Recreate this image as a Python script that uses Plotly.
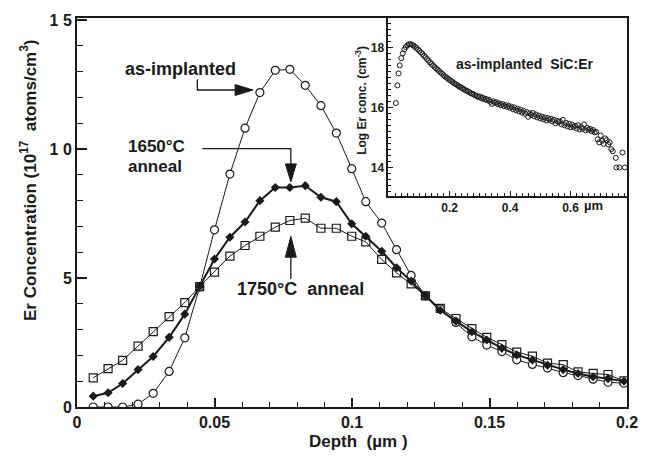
import plotly.graph_objects as go

# ---------------- main data ----------------
depth_um = [0.0059, 0.0113, 0.0166, 0.0222, 0.0277, 0.0335, 0.0392, 0.0446, 0.0500, 0.0556,
            0.0611, 0.0665, 0.0721, 0.0774, 0.0830, 0.0887, 0.0943, 0.0999, 0.1050, 0.1108,
            0.1162, 0.1215, 0.1267, 0.1321, 0.1378, 0.1436, 0.1490, 0.1545, 0.1599, 0.1656,
            0.1711, 0.1768, 0.1822, 0.1877, 0.1931, 0.1989]
as_implanted = [0, 0, 0, 0.11, 0.53, 1.38, 2.68, 4.65, 6.87, 9.03,
                10.81, 12.19, 13.05, 13.09, 12.47, 11.68, 10.62, 9.24, 7.96, 7.13,
                6.10, 5.10, 4.31, 3.80, 3.28, 2.72, 2.40, 2.15, 1.83, 1.65,
                1.51, 1.33, 1.22, 1.08, 0.96, 0.92]
anneal_1650 = [0.42, 0.55, 0.91, 1.45, 1.96, 2.70, 3.60, 4.67, 5.74, 6.58,
               7.17, 8.00, 8.51, 8.51, 8.58, 8.13, 7.96, 7.10, 6.62, 6.04,
               5.40, 4.88, 4.31, 3.75, 3.33, 2.92, 2.60, 2.28, 2.02, 1.82,
               1.62, 1.45, 1.30, 1.17, 1.10, 1.00]
anneal_1750 = [1.13, 1.49, 1.81, 2.36, 2.92, 3.50, 4.05, 4.67, 5.23, 5.85,
               6.26, 6.62, 6.97, 7.23, 7.32, 6.93, 6.93, 6.62, 6.40, 5.72,
               5.20, 4.77, 4.31, 3.82, 3.43, 3.04, 2.70, 2.42, 2.13, 1.97,
               1.70, 1.64, 1.36, 1.30, 1.26, 1.01]

# ---------------- inset data (log scale profile) ----------------
inset_depth = [0.022, 0.027, 0.031, 0.035, 0.040, 0.045, 0.050, 0.055, 0.060, 0.065,
               0.070, 0.075, 0.080, 0.085, 0.090, 0.095, 0.100, 0.105, 0.110, 0.115,
               0.120, 0.125, 0.130, 0.135, 0.140, 0.145, 0.150, 0.155, 0.160, 0.165,
               0.170, 0.175, 0.180, 0.185, 0.190, 0.195, 0.200, 0.205, 0.210, 0.215,
               0.220, 0.225, 0.230, 0.235, 0.240, 0.245, 0.250, 0.255, 0.260, 0.265,
               0.270, 0.275, 0.280, 0.285, 0.290, 0.295, 0.300, 0.305, 0.310, 0.315,
               0.320, 0.325, 0.330, 0.335, 0.340, 0.345, 0.350, 0.355, 0.360, 0.365,
               0.370, 0.375, 0.380, 0.385, 0.390, 0.395, 0.400, 0.405, 0.410, 0.415,
               0.420, 0.425, 0.430, 0.435, 0.440, 0.445, 0.450, 0.455, 0.460, 0.465,
               0.470, 0.475, 0.480, 0.485, 0.490, 0.495, 0.500, 0.505, 0.510, 0.515,
               0.520, 0.525, 0.530, 0.535, 0.540, 0.545, 0.550, 0.555, 0.560, 0.565,
               0.570, 0.575, 0.580, 0.585, 0.590, 0.595, 0.600, 0.605, 0.610, 0.615,
               0.620, 0.625, 0.630, 0.635, 0.640, 0.645, 0.650, 0.655, 0.660, 0.665,
               0.670, 0.675, 0.680, 0.685, 0.690, 0.695, 0.700, 0.705, 0.710, 0.715,
               0.720, 0.725, 0.730, 0.735, 0.740, 0.750, 0.752, 0.762, 0.772, 0.780]
inset_log = [16.16, 16.75, 17.15, 17.42, 17.66, 17.82, 17.95, 18.03, 18.09, 18.12,
             18.13, 18.11, 18.08, 18.04, 18.00, 17.95, 17.90, 17.85, 17.80, 17.74,
             17.69, 17.63, 17.58, 17.52, 17.47, 17.42, 17.37, 17.32, 17.28, 17.23,
             17.18, 17.14, 17.09, 17.05, 17.01, 16.97, 16.93, 16.90, 16.86, 16.82,
             16.79, 16.76, 16.72, 16.70, 16.66, 16.64, 16.60, 16.58, 16.55, 16.53,
             16.49, 16.47, 16.45, 16.41, 16.40, 16.36, 16.38, 16.32, 16.34, 16.28,
             16.30, 16.25, 16.27, 16.20, 16.13, 16.22, 16.17, 16.19, 16.12, 16.15,
             16.09, 16.13, 16.06, 16.10, 16.03, 16.07, 16.00, 16.04, 15.95, 16.01,
             15.92, 15.97, 15.88, 15.94, 15.84, 15.90, 15.80, 15.86, 15.70, 15.82,
             15.76, 15.83, 15.72, 15.78, 15.68, 15.74, 15.65, 15.71, 15.62, 15.68,
             15.58, 15.66, 15.60, 15.64, 15.55, 15.60, 15.48, 15.57, 15.52, 15.55,
             15.45, 15.60, 15.42, 15.50, 15.38, 15.47, 15.35, 15.44, 15.36, 15.40,
             15.31, 15.42, 15.28, 15.36, 15.30, 15.45, 15.25, 15.33, 15.27, 15.30,
             15.22, 15.26, 15.18, 15.20, 14.95, 14.85, 15.08, 14.90, 14.80, 14.98,
             14.92, 14.78, 14.85, 14.62, 14.55, 14.33, 14.01, 14.01, 14.51, 14.01]

INK = "#1a1a1a"
FONT = "Liberation Sans"

fig = go.Figure()

fig.add_trace(go.Scatter(x=depth_um, y=anneal_1750, mode="lines+markers",
                         line=dict(color=INK, width=1),
                         marker=dict(symbol="square-open", size=8, color=INK, line=dict(width=1.2)),
                         showlegend=False))
fig.add_trace(go.Scatter(x=depth_um, y=as_implanted, mode="lines+markers",
                         line=dict(color=INK, width=1),
                         marker=dict(symbol="circle", size=8, color="white", line=dict(width=1.2, color=INK)),
                         showlegend=False))
fig.add_trace(go.Scatter(x=depth_um, y=anneal_1650, mode="lines+markers",
                         line=dict(color=INK, width=2),
                         marker=dict(symbol="diamond", size=7, color=INK),
                         showlegend=False))

fig.add_trace(go.Scatter(x=inset_depth, y=inset_log, mode="markers", xaxis="x2", yaxis="y2",
                         marker=dict(symbol="circle-open", size=5, color=INK, line=dict(width=1)),
                         showlegend=False))

# pixel -> data helpers for annotation geometry (main axes: x 77..630 px, y 15..407 px)
def dx(px):
    return (px - 77) / 2765.0

def dy(py):
    return (407 - py) / 26.0

shapes = []
# as-implanted bent arrow
shapes.append(dict(type="path", xref="x", yref="y",
                   path=f"M {dx(198)},{dy(77)} L {dx(198)},{dy(87.5)} L {dx(238)},{dy(87.5)}",
                   line=dict(color=INK, width=1.3)))
shapes.append(dict(type="path", xref="x", yref="y",
                   path=f"M {dx(236)},{dy(82)} L {dx(254)},{dy(87.5)} L {dx(236)},{dy(93)} Z",
                   fillcolor=INK, line=dict(color=INK, width=1)))
# 1650 arrow
shapes.append(dict(type="path", xref="x", yref="y",
                   path=f"M {dx(203)},{dy(146.5)} L {dx(292)},{dy(146.5)} L {dx(292)},{dy(165)}",
                   line=dict(color=INK, width=1.3)))
shapes.append(dict(type="path", xref="x", yref="y",
                   path=f"M {dx(286.5)},{dy(162)} L {dx(292)},{dy(180)} L {dx(297.5)},{dy(162)} Z",
                   fillcolor=INK, line=dict(color=INK, width=1)))
# 1750 arrow
shapes.append(dict(type="path", xref="x", yref="y",
                   path=f"M {dx(292)},{dy(278)} L {dx(292)},{dy(253)}",
                   line=dict(color=INK, width=1.3)))
shapes.append(dict(type="path", xref="x", yref="y",
                   path=f"M {dx(286.5)},{dy(256)} L {dx(292)},{dy(235)} L {dx(297.5)},{dy(256)} Z",
                   fillcolor=INK, line=dict(color=INK, width=1)))

ann_font = dict(family=FONT, size=18, color=INK)
ann_font_small = dict(family=FONT, size=17, color=INK)
annotations = [
    dict(x=dx(123), y=dy(66), xref="x", yref="y", text="<b>as-implanted</b>", showarrow=False,
         xanchor="left", yanchor="middle", font=ann_font),
    dict(x=dx(126), y=dy(144.5), xref="x", yref="y", text="<b>1650°C</b>", showarrow=False,
         xanchor="left", yanchor="middle", font=ann_font_small),
    dict(x=dx(126), y=dy(165), xref="x", yref="y", text="<b>anneal</b>", showarrow=False,
         xanchor="left", yanchor="middle", font=ann_font_small),
    dict(x=dx(236), y=dy(288), xref="x", yref="y", text="<b>1750°C  anneal</b>", showarrow=False,
         xanchor="left", yanchor="middle", font=ann_font),
    # axis titles
    dict(x=(28 - 77) / 553, y=(407 - 178) / 392, xref="paper", yref="paper",
         text="<b>Er Concentration (10<sup>17</sup>  atoms/cm<sup>3</sup>)</b>", textangle=-90,
         showarrow=False, xanchor="center", yanchor="middle", font=dict(family=FONT, size=17, color=INK)),
    dict(x=(360 - 77) / 553, y=(407 - 442) / 392, xref="paper", yref="paper",
         text="<b>Depth  (µm )</b>", showarrow=False, xanchor="center", yanchor="middle",
         font=dict(family=FONT, size=17, color=INK)),
    # inset texts
    dict(x=(363 - 77) / 553, y=(407 - 98) / 392, xref="paper", yref="paper",
         text="<b>Log Er conc. (cm<sup>-3</sup>)</b>", textangle=-90, showarrow=False,
         xanchor="center", yanchor="middle", font=dict(family=FONT, size=12, color=INK)),
    dict(x=0.449, y=17.47, xref="x2", yref="y2", text="<b>as-implanted  SiC:Er</b>", showarrow=False,
         xanchor="center", yanchor="middle", font=dict(family=FONT, size=14, color=INK)),
    dict(x=0.675, y=(407 - 204) / 392, xref="x2", yref="paper", text="<b>µm</b>", showarrow=False,
         xanchor="center", yanchor="middle", font=dict(family=FONT, size=13, color=INK)),
]

axis_common = dict(showline=True, linecolor=INK, mirror=True, ticks="inside", tickcolor=INK,
                   showgrid=False, zeroline=False)

fig.update_layout(
    width=650, height=459,
    margin=dict(l=77, r=20, t=15, b=52),
    paper_bgcolor="white", plot_bgcolor="white",
    font=dict(family=FONT, color=INK),
    shapes=shapes, annotations=annotations,
    xaxis=dict(**axis_common, range=[0, 0.2], domain=[0, 1],
               tickvals=[0, 0.05, 0.1, 0.15, 0.2], ticktext=["<b>0</b>", "<b>0.05</b>", "<b>0.1</b>", "<b>0.15</b>", "<b>0.2</b>"],
               ticklen=9, tickwidth=1.5, linewidth=2,
               minor=dict(dtick=0.01, ticklen=5, ticks="inside", tickcolor=INK, tickwidth=1.2),
               tickfont=dict(size=16, family=FONT, color=INK)),
    yaxis=dict(**axis_common, range=[0, 15.08], domain=[0, 1],
               tickvals=[0, 5, 10, 15], ticktext=["<b>0</b>", "<b>5</b>", "<b>1 0</b>", "<b>1 5</b>"],
               ticklen=10, tickwidth=1.5, linewidth=2,
               minor=dict(dtick=1, ticklen=6, ticks="inside", tickcolor=INK, tickwidth=1.2),
               tickfont=dict(size=16, family=FONT, color=INK)),
    xaxis2=dict(**axis_common, anchor="y2", domain=[(390 - 77) / 553, 1.0], range=[-0.003, 0.787],
                tickvals=[0.2, 0.4, 0.6],
                ticktext=["<b>0.2</b>", "<b>0.4</b>", "<b>0.6</b>"],
                ticklen=5, tickwidth=1, linewidth=1.5,
                minor=dict(dtick=0.02, ticklen=3, ticks="inside", tickcolor=INK),
                tickfont=dict(size=12, family=FONT, color=INK)),
    yaxis2=dict(**axis_common, anchor="x2", domain=[(407 - 194) / 392, 1.0], range=[13.07, 19.0],
                tickvals=[14, 16, 18], ticktext=["<b>14</b>", "<b>16</b>", "<b>18</b>"],
                ticklen=5, tickwidth=1, linewidth=1.5,
                minor=dict(dtick=0.2, ticklen=3, ticks="inside", tickcolor=INK),
                tickfont=dict(size=12, family=FONT, color=INK)),
)

fig.write_html("out.html", config={"displayModeBar": False},
               post_script="document.body.style.margin='0px';")
